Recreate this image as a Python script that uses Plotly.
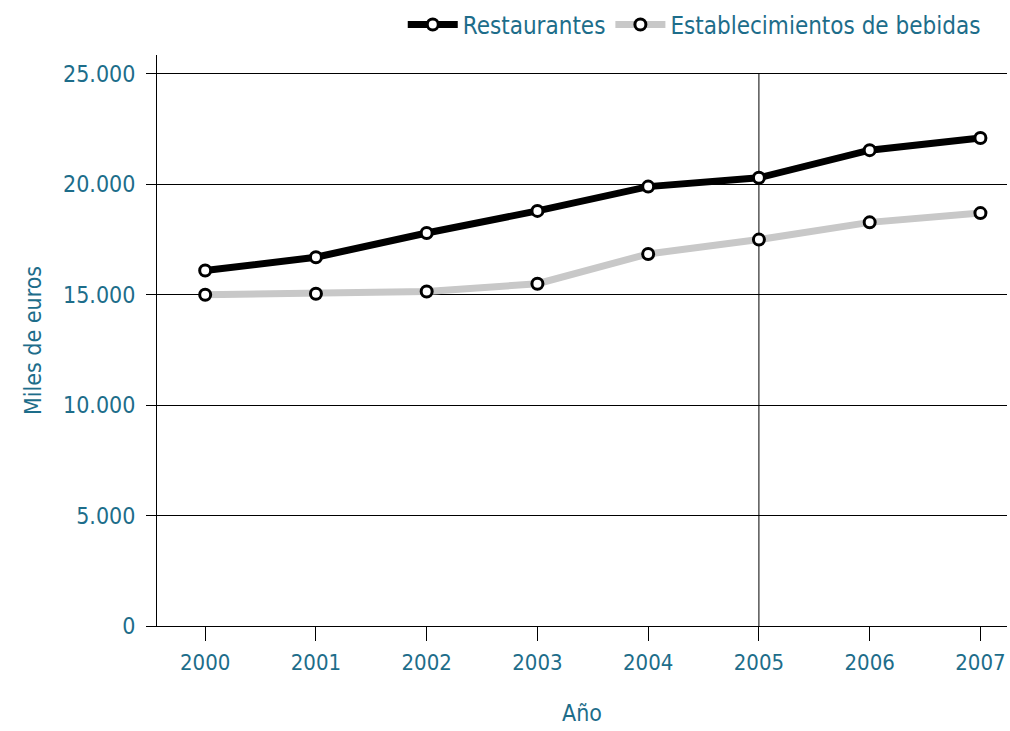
import plotly.graph_objects as go

years = [2000, 2001, 2002, 2003, 2004, 2005, 2006, 2007]
restaurantes = [16100, 16700, 17800, 18800, 19900, 20300, 21550, 22100]
bebidas = [15000, 15050, 15150, 15500, 16850, 17500, 18280, 18700]
y_ticks = [0, 5000, 10000, 15000, 20000, 25000]
y_tick_labels = ["0", "5.000", "10.000", "15.000", "20.000", "25.000"]

TEAL = "#1d6d8a"
FONT = "DejaVu Sans Condensed, Liberation Sans Narrow, sans-serif"

fig = go.Figure()

fig.add_trace(go.Scatter(
    x=years, y=restaurantes, name="Restaurantes", mode="lines+markers",
    line=dict(color="#000000", width=7),
    marker=dict(symbol="circle", size=11, color="#ffffff",
                line=dict(color="#000000", width=3)),
))
fig.add_trace(go.Scatter(
    x=years, y=bebidas, name="Establecimientos de bebidas", mode="lines+markers",
    line=dict(color="#c8c8c8", width=7),
    marker=dict(symbol="circle", size=11, color="#ffffff",
                line=dict(color="#000000", width=3)),
))

# vertical reference line at 2005
fig.add_shape(type="line", xref="x", yref="y", x0=2005, x1=2005, y0=0, y1=25000,
              line=dict(color="#000000", width=1), layer="below")

fig.update_layout(
    width=1010, height=731,
    margin=dict(l=157, r=3, t=54, b=105),
    paper_bgcolor="#ffffff", plot_bgcolor="#ffffff",
    font=dict(family=FONT, color=TEAL),
    showlegend=True,
    legend=dict(orientation="h", x=0.975, xanchor="right", y=1.051, yanchor="middle",
                font=dict(size=24, color=TEAL, family=FONT),
                bgcolor="rgba(0,0,0,0)", itemwidth=50, traceorder="normal"),
)

fig.update_xaxes(
    range=[1999.565, 2007.24], tickvals=years, ticktext=[str(y) for y in years],
    showgrid=False, zeroline=False, showline=True, linecolor="#000000", linewidth=1,
    ticks="outside", ticklen=14, tickcolor="#000000", tickwidth=1,
    tickfont=dict(size=22, color=TEAL, family=FONT), ticklabeloverflow="allow",
    ticklabelstandoff=3,
    title=dict(text="Año", font=dict(size=23, color=TEAL, family=FONT), standoff=30),
)
fig.update_yaxes(
    range=[0, 25860], tickvals=y_ticks, ticktext=y_tick_labels,
    showgrid=True, gridcolor="#000000", gridwidth=1, zeroline=False,
    showline=True, linecolor="#000000", linewidth=1,
    ticks="outside", ticklen=10, tickcolor="#000000", tickwidth=1,
    tickfont=dict(size=23, color=TEAL, family=FONT), ticklabelstandoff=6,
    title=dict(text="Miles de euros", font=dict(size=23, color=TEAL, family=FONT), standoff=14),
)

fig.write_html("out.html")
